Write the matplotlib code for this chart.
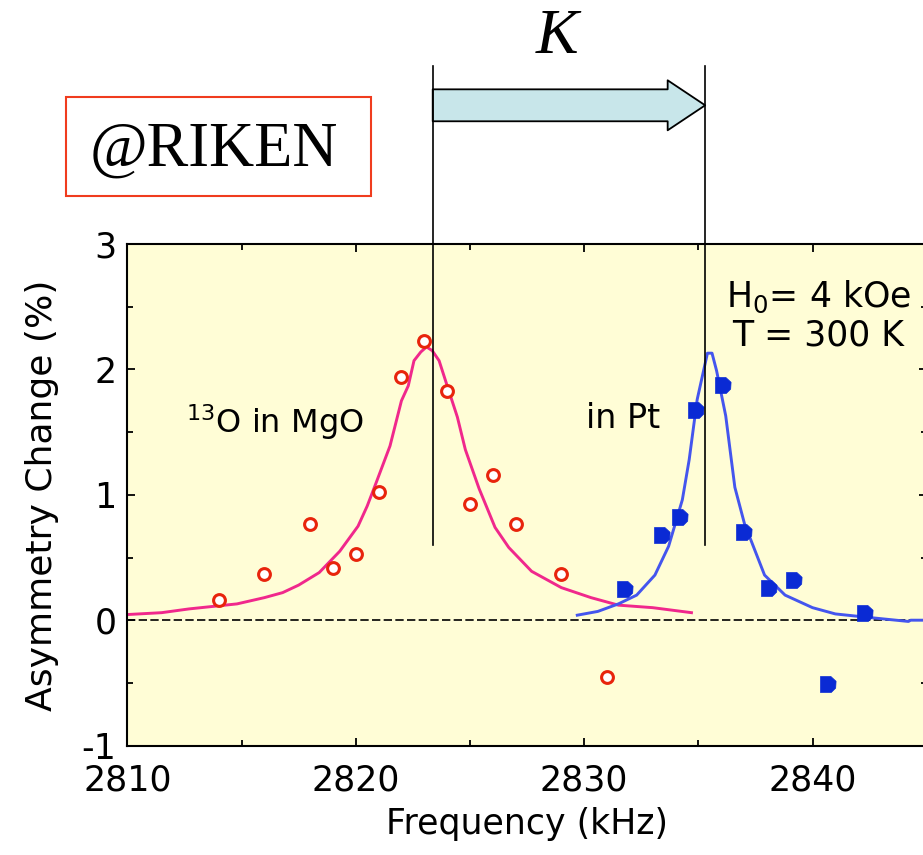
import matplotlib
matplotlib.use("Agg")
import matplotlib.pyplot as plt
import matplotlib.transforms as mtransforms
from matplotlib.patches import FancyArrowPatch, Rectangle
from matplotlib.path import Path
from matplotlib.ticker import MultipleLocator

# measured points, 13O in MgO
mgo_freq = [2814, 2816, 2818, 2819, 2820, 2821, 2822, 2823, 2824, 2825, 2826, 2827, 2829, 2831]
mgo_asym = [0.16, 0.37, 0.77, 0.42, 0.53, 1.02, 1.94, 2.23, 1.83, 0.93, 1.16, 0.77, 0.37, -0.45]

# measured points, in Pt
pt_freq = [2831.8, 2833.4, 2834.2, 2834.9, 2836.1, 2837.0, 2838.1, 2839.2, 2840.7, 2842.3]
pt_asym = [0.25, 0.68, 0.82, 1.68, 1.88, 0.70, 0.26, 0.32, -0.51, 0.06]

# fit curves
mgo_fit_freq = [2810, 2811.5, 2812.7, 2814.8, 2816.0, 2816.8, 2817.5, 2818.4, 2819.3, 2820.1,
                2820.5, 2820.9, 2821.5, 2822.0, 2822.3, 2822.55, 2822.85, 2823.1, 2823.35,
                2823.65, 2823.95, 2824.45, 2824.8, 2825.4, 2826.1, 2826.7, 2827.7, 2829.0,
                2830.3, 2831.5, 2833.0, 2834.7]
mgo_fit_asym = [0.045, 0.06, 0.09, 0.13, 0.18, 0.22, 0.28, 0.38, 0.55, 0.75,
                0.91, 1.10, 1.39, 1.75, 1.87, 2.07, 2.14, 2.18, 2.15,
                2.07, 1.90, 1.62, 1.36, 1.05, 0.74, 0.58, 0.39, 0.26,
                0.18, 0.12, 0.10, 0.06]

pt_fit_freq = [2829.7, 2830.6, 2831.5, 2832.3, 2833.1, 2833.7, 2834.3, 2834.6, 2834.95, 2835.4,
               2835.6, 2835.8, 2836.2, 2836.6, 2837.05, 2837.3, 2837.9, 2838.8, 2840.0, 2841.0,
               2842.3, 2844.2, 2844.3, 2845]
pt_fit_asym = [0.04, 0.07, 0.13, 0.20, 0.36, 0.59, 0.96, 1.28, 1.76, 2.13,
               2.13, 1.99, 1.63, 1.06, 0.75, 0.64, 0.36, 0.20, 0.10, 0.05,
               0.025, -0.01, 0.0, 0.0]

# peak centres (vertical markers) and where they start
peak_mgo = 2823.37
peak_pt = 2835.3
peak_line_bottom = 0.6

x_ticks = [2810, 2820, 2830, 2840]
y_ticks = [-1, 0, 1, 2, 3]

plt.rcParams["font.family"] = "DejaVu Sans"
plt.rcParams["mathtext.default"] = "regular"
plt.rcParams["axes.unicode_minus"] = False

fig = plt.figure(figsize=(9.23, 8.55), dpi=100)
ax = fig.add_axes([0.138, 0.128, 0.866, 0.5865])
ax.set_facecolor("#fffdd6")

ax.axhline(0, color="black", lw=1.2, ls=(0, (5, 2)), zorder=1)

ax.plot(mgo_fit_freq, mgo_fit_asym, color="#f0288c", lw=2.1, zorder=2)
ax.plot(pt_fit_freq, pt_fit_asym, color="#4455ee", lw=2.1, zorder=2)

ax.plot(mgo_freq, mgo_asym, ls="none", marker="o", ms=8.5, mfc="white",
        mec="#e8240c", mew=2.2, zorder=3)

d_marker = Path([(-1, -1), (-1, 1), (0.3, 1), (0.95, 0.4), (0.9, -0.45),
                 (0.35, -1), (-1, -1)])
ax.plot(pt_freq, pt_asym, ls="none", marker=d_marker, ms=11.5, mfc="#0a2ad4",
        mec="#0a2ad4", mew=0.5, zorder=3)

ax.set_xlim(2810, 2845)
ax.set_ylim(-1, 3)
ax.set_xticks(x_ticks)
ax.set_yticks(y_ticks)
ax.xaxis.set_minor_locator(MultipleLocator(5))
ax.yaxis.set_minor_locator(MultipleLocator(0.5))
ax.tick_params(which="both", direction="in", top=True, right=True, width=1.3,
               labelsize=25)
ax.tick_params(which="major", length=6)
ax.tick_params(which="minor", length=4.5)
ax.tick_params(axis="x", pad=13)
ax.tick_params(axis="y", pad=8)
for s in ax.spines.values():
    s.set_linewidth(1.5)

ax.set_xlabel("Frequency (kHz)", fontsize=25, labelpad=7)
ax.set_ylabel("Asymmetry Change (%)", fontsize=26, labelpad=16)

ax.text(2812.58, 1.49, r"$^{13}$O in MgO", fontsize=23, ha="left", va="baseline")
ax.text(2830.07, 1.53, "in Pt", fontsize=24, ha="left", va="baseline")
ax.text(2840.26, 2.50, r"H$_0$= 4 kOe", fontsize=25, ha="center", va="baseline")
ax.text(2840.26, 2.19, "T = 300 K", fontsize=25, ha="center", va="baseline")

# peak lines running up out of the axes, and the K arrow between them
blend = mtransforms.blended_transform_factory(ax.transData, fig.transFigure)
line_top_fig = 1 - 66 / 855
bottom_fig = fig.transFigure.inverted().transform(
    ax.transData.transform((peak_mgo, peak_line_bottom)))[1]
for xp in (peak_mgo, peak_pt):
    fig.add_artist(plt.Line2D([xp, xp], [bottom_fig, line_top_fig], transform=blend,
                              color="black", lw=1.2))

arrow_y = 1 - 105.3 / 855
arrow = FancyArrowPatch((peak_mgo, arrow_y), (peak_pt, arrow_y), transform=blend,
                        arrowstyle="simple,head_length=27,head_width=36,tail_width=23",
                        mutation_scale=1, shrinkA=0, shrinkB=0,
                        fc="#c8e6ea", ec="black", lw=1.3)
fig.add_artist(arrow)

fig.text(0.603, 1 - 52.7 / 855, "K", fontsize=46, family="Liberation Serif",
         style="italic", ha="center", va="baseline")

fig.add_artist(Rectangle((0.0712, 0.7711), 0.3304, 0.1151, transform=fig.transFigure,
                         fill=False, ec="#f03c1e", lw=1.5))
fig.text(0.2317, 1 - 166 / 855, "@RIKEN", fontsize=45, family="Liberation Serif",
         ha="center", va="baseline")

fig.savefig("out.png", dpi=100)
